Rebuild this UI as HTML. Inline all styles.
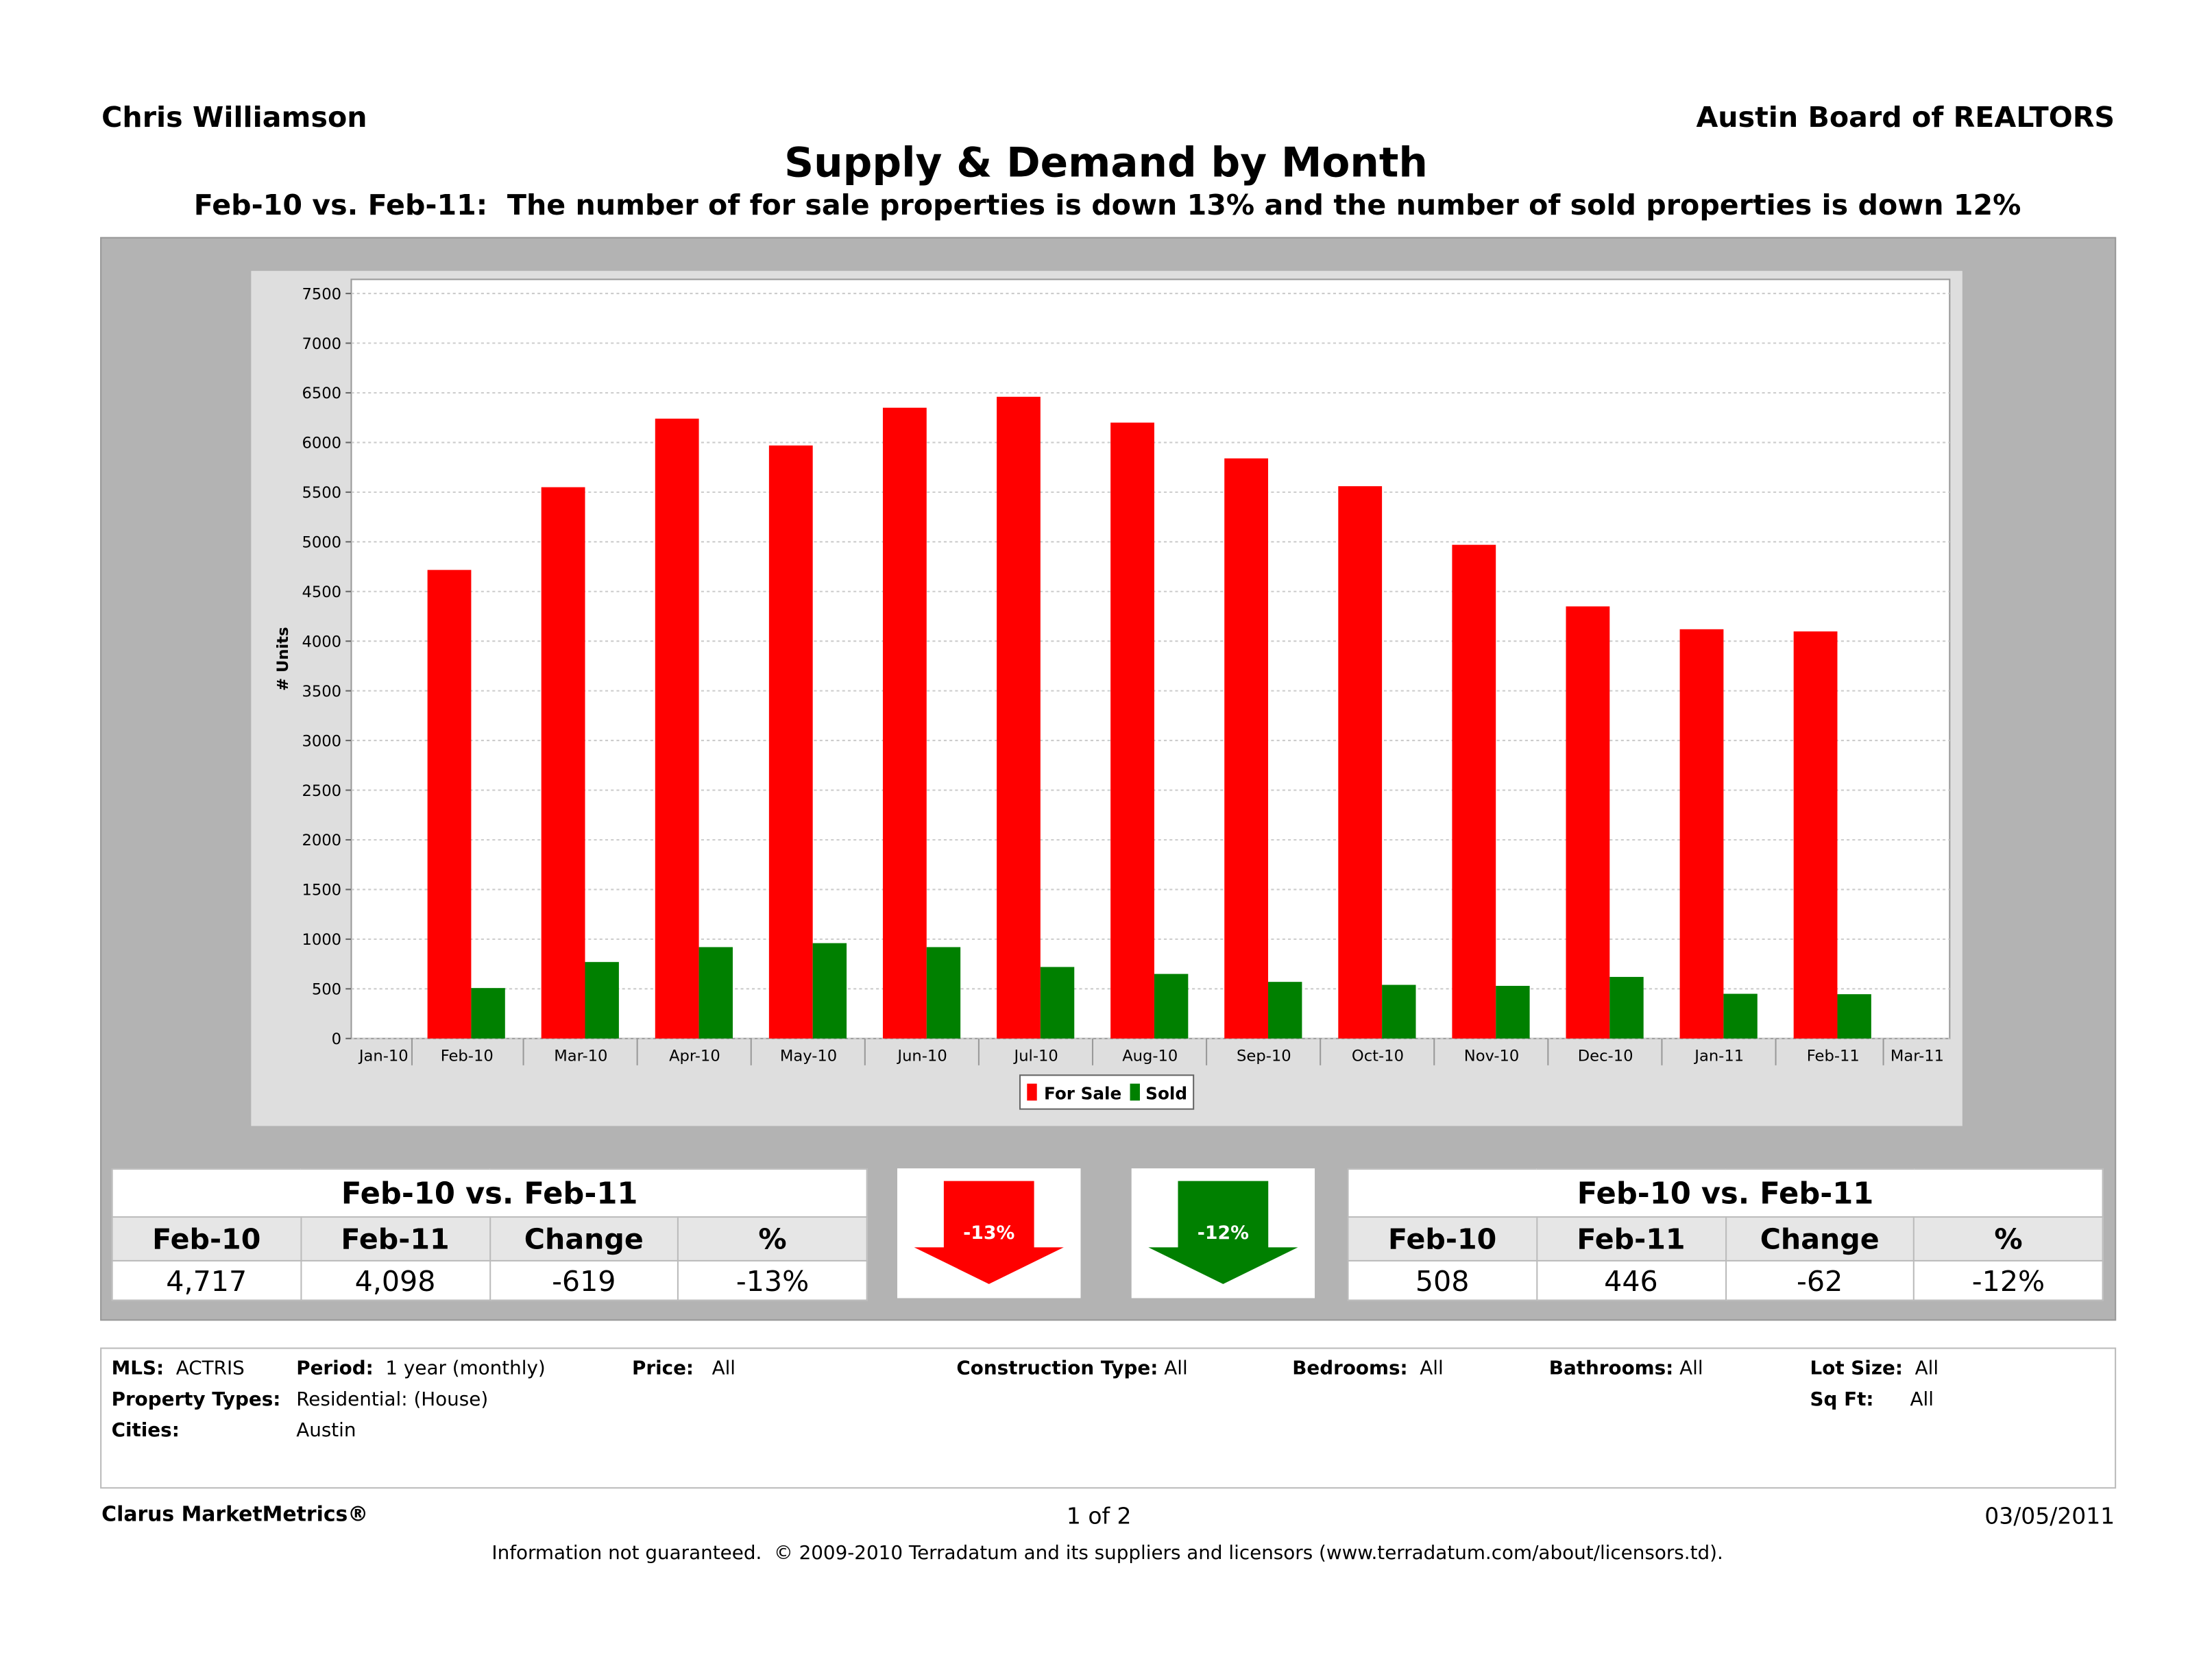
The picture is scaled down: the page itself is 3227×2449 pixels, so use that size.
<!DOCTYPE html>
<html><head><meta charset="utf-8"><style>
html,body{margin:0;padding:0;background:#fff;overflow:hidden}
#page{position:absolute;left:0;top:0;width:1568px;height:1190px;transform:scale(2.0581);transform-origin:0 0;font-family:"DejaVu Sans","Liberation Sans",sans-serif;color:#000}
.a{position:absolute;white-space:nowrap}
.b{font-weight:bold}
table{border-collapse:collapse;position:absolute;background:#fff;table-layout:fixed}
td{text-align:center;border:1px solid #bbb;padding:0}
</style></head><body>
<div id="page">
<div class="a b" style="left:72px;top:71px;font-size:20px">Chris Williamson</div>
<div class="a b" style="right:69px;top:71px;font-size:20px">Austin Board of REALTORS</div>
<div class="a b" style="left:0;width:1568px;text-align:center;top:98px;font-size:29px">Supply &amp; Demand by Month</div>
<div class="a b" style="left:0;width:1570px;text-align:center;top:133px;font-size:20px">Feb-10 vs. Feb-11:&nbsp; The number of for sale properties is down 13% and the number of sold properties is down 12%</div>
<div class="a" style="left:71px;top:168px;width:1427px;height:766px;background:#b3b3b3;border:1px solid #999"></div>
<svg class="a" style="left:0;top:0" width="1568" height="1190">
<rect x="178" y="192" width="1213" height="606" fill="#dedede"/>
<rect x="249" y="198" width="1133" height="538" fill="#fff" stroke="#999"/>
<g id="grid"></g><g id="bars"></g><g id="xaxis"></g>
<text transform="translate(204,467) rotate(-90)" text-anchor="middle" font-size="11" font-weight="bold" font-family="DejaVu Sans, sans-serif"># Units</text>
<g>
<rect x="723" y="762" width="123" height="24" fill="#fff" stroke="#666"/>
<rect x="728" y="768" width="7" height="12" fill="#ff0000"/>
<text x="740" y="779" font-size="12" font-weight="bold" font-family="DejaVu Sans, sans-serif">For Sale</text>
<rect x="801" y="768" width="7" height="12" fill="#008000"/>
<text x="812" y="779" font-size="12" font-weight="bold" font-family="DejaVu Sans, sans-serif">Sold</text>
</g>
</svg>
<table style="left:79px;top:828px;width:536px;font-size:20px">
<tr style="height:34px"><td colspan="4" class="b" style="font-size:21px">Feb-10 vs. Feb-11</td></tr>
<tr style="height:31px;background:#e6e6e6" class="b"><td>Feb-10</td><td>Feb-11</td><td>Change</td><td>%</td></tr>
<tr style="height:28px"><td>4,717</td><td>4,098</td><td>-619</td><td>-13%</td></tr></table>
<table style="left:955px;top:828px;width:536px;font-size:20px">
<tr style="height:34px"><td colspan="4" class="b" style="font-size:21px">Feb-10 vs. Feb-11</td></tr>
<tr style="height:31px;background:#e6e6e6" class="b"><td>Feb-10</td><td>Feb-11</td><td>Change</td><td>%</td></tr>
<tr style="height:28px"><td>508</td><td>446</td><td>-62</td><td>-12%</td></tr></table>
<svg class="a" style="left:636px;top:828px" width="130" height="92">
<rect width="130" height="92" fill="#fff"/><polygon points="33,9 97,9 97,56 118,56 65,82 12,56 33,56" fill="#ff0000"/>
<text x="65" y="50" text-anchor="middle" fill="#fff" font-size="13" font-weight="bold" font-family="DejaVu Sans, sans-serif">-13%</text></svg>
<svg class="a" style="left:802px;top:828px" width="130" height="92">
<rect width="130" height="92" fill="#fff"/><polygon points="33,9 97,9 97,56 118,56 65,82 12,56 33,56" fill="#008000"/>
<text x="65" y="50" text-anchor="middle" fill="#fff" font-size="13" font-weight="bold" font-family="DejaVu Sans, sans-serif">-12%</text></svg>
<div class="a" style="left:71px;top:955px;width:1427px;height:98px;border:1px solid #bbb"></div>
<div style="font-size:13.5px">
<div class="a" style="left:79px;top:962px"><b>MLS:</b>&nbsp; ACTRIS</div>
<div class="a" style="left:210px;top:962px"><b>Period:</b>&nbsp; 1 year (monthly)</div>
<div class="a" style="left:448px;top:962px"><b>Price:</b>&nbsp;&nbsp; All</div>
<div class="a" style="left:678px;top:962px"><b>Construction Type:</b> All</div>
<div class="a" style="left:916px;top:962px"><b>Bedrooms:</b>&nbsp; All</div>
<div class="a" style="left:1098px;top:962px"><b>Bathrooms:</b> All</div>
<div class="a" style="left:1283px;top:962px"><b>Lot Size:</b>&nbsp; All</div>
<div class="a" style="left:79px;top:984px"><b>Property Types:</b></div>
<div class="a" style="left:210px;top:984px">Residential: (House)</div>
<div class="a" style="left:1283px;top:984px"><b>Sq Ft:</b>&nbsp;&nbsp;&nbsp;&nbsp;&nbsp; All</div>
<div class="a" style="left:79px;top:1006px"><b>Cities:</b></div>
<div class="a" style="left:210px;top:1006px">Austin</div>
</div>
<div class="a b" style="left:72px;top:1066px;font-size:14.5px">Clarus MarketMetrics®</div>
<div class="a" style="left:756px;top:1065px;font-size:16px">1 of 2</div>
<div class="a" style="right:69px;top:1065px;font-size:16px">03/05/2011</div>
<div class="a" style="left:0;width:1570px;text-align:center;top:1093px;font-size:13.5px">Information not guaranteed.&nbsp; © 2009-2010 Terradatum and its suppliers and licensors (www.terradatum.com/about/licensors.td).</div>
</div>
<script>
const months=["Jan-10","Feb-10","Mar-10","Apr-10","May-10","Jun-10","Jul-10","Aug-10","Sep-10","Oct-10","Nov-10","Dec-10","Jan-11","Feb-11","Mar-11"];
const forSale=[null,4717,5550,6240,5970,6350,6460,6200,5840,5560,4970,4350,4120,4098,null];
const sold=[null,508,770,920,960,920,720,650,570,540,530,620,450,446,null];
const yTicks=[0,500,1000,1500,2000,2500,3000,3500,4000,4500,5000,5500,6000,6500,7000,7500];
const NS="http://www.w3.org/2000/svg";
function y(v){return 736-v*(528/7500);}
function xc(i){if(i===0)return 272;if(i===months.length-1)return 1359;return 331+(i-1)*80.7;}
function mk(t,a,p){const e=document.createElementNS(NS,t);for(const k in a)e.setAttribute(k,a[k]);p.appendChild(e);return e;}
const grid=document.getElementById('grid'),bars=document.getElementById('bars'),xa=document.getElementById('xaxis');
yTicks.forEach(v=>{
 const l=mk('line',{x1:249,x2:1382,y1:y(v),y2:y(v),stroke:'#ccc','stroke-dasharray':'2,2'},grid);
 
 
 mk('line',{x1:245,x2:249,y1:y(v),y2:y(v),stroke:'#666'},grid);
 const t=mk('text',{x:242,y:y(v)+4,'text-anchor':'end','font-size':11,'font-family':'DejaVu Sans, sans-serif'},grid);
 t.textContent=v;
 
 
});
months.forEach((m,i)=>{
 const c=xc(i);
 if(forSale[i]!=null){
  const r=mk('rect',{x:c-28,y:y(forSale[i]),width:31,height:736-y(forSale[i]),fill:'#ff0000'},bars);
  
  
 }
 if(sold[i]!=null){
  const r=mk('rect',{x:c+3,y:y(sold[i]),width:24,height:736-y(sold[i]),fill:'#008000'},bars);
  
  
 }
 const t=mk('text',{x:c,y:752,'text-anchor':'middle','font-size':11,'font-family':'DejaVu Sans, sans-serif'},xa);
 t.textContent=m;
 
 
 if(i<months.length-1){const sx=i===0?292:(i===months.length-2?1335:c+40);mk('line',{x1:sx,x2:sx,y1:736,y2:755,stroke:'#999'},xa);}
});
</script>
</body></html>
